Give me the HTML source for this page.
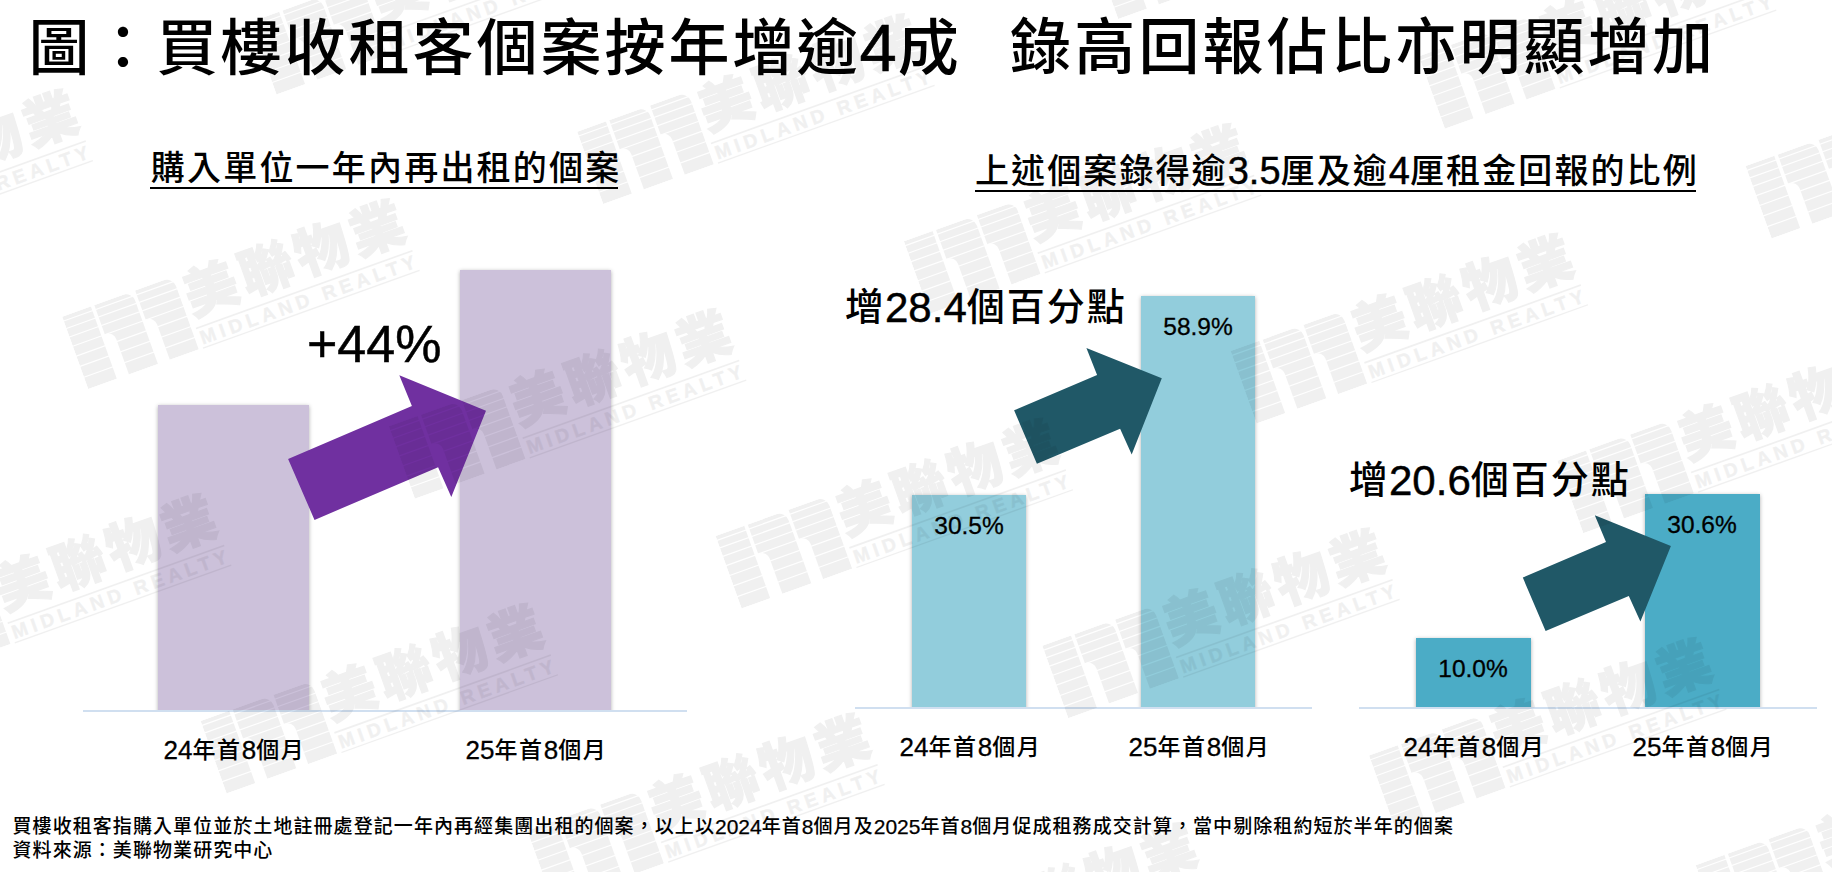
<!DOCTYPE html>
<html lang="zh-HK">
<head>
<meta charset="utf-8">
<title>買樓收租客個案按年增逾4成</title>
<style>
html,body{margin:0;padding:0;}
body{width:1832px;height:872px;position:relative;overflow:hidden;background:#fff;color:#000;font-family:"Liberation Sans","Noto Sans CJK HK","Noto Sans CJK TC",sans-serif;}
.t{position:absolute;white-space:nowrap;line-height:1;margin:0;font-weight:500;}
.title{font-size:61px;letter-spacing:3px;top:14px;}
.title .n{position:relative;top:1px;left:-1px;font-size:67px;letter-spacing:0;-webkit-text-stroke:.6px #000;}
.sub{font-size:34px;letter-spacing:2px;}
.sub .n{position:relative;top:1px;font-size:38px;letter-spacing:0;-webkit-text-stroke:.4px #000;}
.ul{position:absolute;height:2px;background:#000;}
.plot{position:absolute;left:0;top:0;width:1832px;overflow:hidden;}
.bar{position:absolute;box-shadow:0 1px 4px rgba(0,0,0,.32);}
.axis{position:absolute;height:2px;background:#d0dff0;}
.lab{font-size:23px;letter-spacing:1.6px;width:200px;text-align:center;}
.lab .n{position:relative;top:.8px;font-size:26px;letter-spacing:0;-webkit-text-stroke:.3px #000;}
.val{font-size:24.5px;width:120px;text-align:center;-webkit-text-stroke:.3px #000;}
.ann{font-size:38px;letter-spacing:2px;}
.ann .n{position:relative;top:1.5px;font-size:42px;letter-spacing:0;-webkit-text-stroke:.45px #000;}
.big{font-size:52px;-webkit-text-stroke:.5px #000;}
.note{font-weight:500;position:absolute;left:12.5px;top:814px;font-size:19px;letter-spacing:1.07px;line-height:24px;white-space:nowrap;margin:0;}
.note .n{position:relative;top:.6px;font-size:21px;letter-spacing:0;-webkit-text-stroke:.25px #000;}
svg.ov{position:absolute;left:0;top:0;}
</style>
</head>
<body>

<h1 class="t title" style="left:28.5px;top:12.5px">圖：買樓收租客個案按年增逾<span class="n">4</span>成</h1>
<h1 class="t title" style="left:1010px;top:18px;letter-spacing:3.2px">錄高回報佔比亦明顯增加</h1>

<h2 class="t sub" style="left:150.8px;top:151px;letter-spacing:2.2px">購入單位一年內再出租的個案</h2>
<div class="ul" style="left:150px;top:187px;width:468px"></div>

<h2 class="t sub" style="left:975px;top:151px;letter-spacing:2.1px">上述個案錄得逾<span class="n">3.5</span>厘及逾<span class="n">4</span>厘租金回報的比例</h2>
<div class="ul" style="left:975px;top:190px;width:721px"></div>

<!-- left chart -->
<div class="plot" style="height:710px">
  <div class="bar" style="left:158px;top:405px;width:151px;height:320px;background:#ccc1da"></div>
  <div class="bar" style="left:460px;top:270px;width:151px;height:455px;background:#ccc1da"></div>
</div>
<div class="axis" style="left:83px;top:710px;width:604px"></div>
<div class="t lab" style="left:134.5px;top:736px"><span class="n">24</span>年首<span class="n">8</span>個月</div>
<div class="t lab" style="left:436.5px;top:736px"><span class="n">25</span>年首<span class="n">8</span>個月</div>
<div class="t big" style="left:307px;top:318px">+44%</div>

<!-- right charts -->
<div class="plot" style="height:707px">
  <div class="bar" style="left:912px;top:495px;width:114px;height:230px;background:#92cddc"></div>
  <div class="bar" style="left:1141px;top:296px;width:114px;height:430px;background:#92cddc"></div>
  <div class="bar" style="left:1416px;top:638px;width:115px;height:90px;background:#4bacc6"></div>
  <div class="bar" style="left:1645px;top:494px;width:115px;height:230px;background:#4bacc6"></div>
</div>
<div class="axis" style="left:855px;top:707px;width:457px"></div>
<div class="axis" style="left:1359px;top:707px;width:458px"></div>

<div class="t val" style="left:909px;top:514px">30.5%</div>
<div class="t val" style="left:1138px;top:315px">58.9%</div>
<div class="t val" style="left:1413px;top:657px">10.0%</div>
<div class="t val" style="left:1642px;top:513px">30.6%</div>

<div class="t lab" style="left:870.5px;top:733px"><span class="n">24</span>年首<span class="n">8</span>個月</div>
<div class="t lab" style="left:1099.5px;top:733px"><span class="n">25</span>年首<span class="n">8</span>個月</div>
<div class="t lab" style="left:1374.5px;top:733px"><span class="n">24</span>年首<span class="n">8</span>個月</div>
<div class="t lab" style="left:1603.5px;top:733px"><span class="n">25</span>年首<span class="n">8</span>個月</div>

<div class="t ann" style="left:845px;top:285px">增<span class="n">28.4</span>個百分點</div>
<div class="t ann" style="left:1349px;top:458px">增<span class="n">20.6</span>個百分點</div>

<!-- arrows -->
<svg class="ov" width="1832" height="872" viewBox="0 0 1832 872">
  <polygon fill="#7030a0" points="288.1,459 411.9,406 399.3,375.2 486,410.7 451.3,497.1 438.1,467.2 314.5,519.9"/>
  <polygon fill="#205867" points="1014.1,410.3 1097.1,375 1086.4,348.1 1161.8,378.2 1131.7,454.4 1120.1,428.7 1036.9,463.8"/>
  <polygon fill="#205867" points="1522.8,577.6 1606,542.1 1594.8,515.3 1670.9,546.1 1640.4,621.5 1628.8,595.9 1545.6,630.9"/>
</svg>

<p class="note">買樓收租客指購入單位並於土地註冊處登記一年內再經集團出租的個案，以上以<span class="n">2024</span>年首<span class="n">8</span>個月及<span class="n">2025</span>年首<span class="n">8</span>個月促成租務成交計算，當中剔除租約短於半年的個案<br>資料來源：美聯物業研究中心</p>

<!-- watermark overlay -->
<svg class="ov" width="1832" height="872" viewBox="0 0 1832 872" style="opacity:.053">
  <defs>
    <g id="wm" fill="#000">
      <clipPath id="mshape">
        <path d="M0,0 H30.4 V77 H0 Z M34.2,0 H64.1 A10,10 0 0 1 74.1,10 V77 H43.4 V39.5 A8.5,8.5 0 0 0 34.9,31 H34.2 Z M77.6,0 H107.5 A10,10 0 0 1 117.5,10 V77 H86.8 V39.5 A8.5,8.5 0 0 0 78.3,31 H77.6 Z"/>
      </clipPath>
      <g clip-path="url(#mshape)" transform="translate(0 1)">
        <rect x="0" y="0" width="118" height="4"/>
        <rect x="0" y="5.2" width="118" height="6.8"/>
        <rect x="0" y="13.2" width="118" height="7.8"/>
        <rect x="0" y="22.2" width="118" height="8.6"/>
        <rect x="0" y="32" width="118" height="9.3"/>
        <rect x="0" y="42.5" width="118" height="9.8"/>
        <rect x="0" y="53.5" width="118" height="10.3"/>
        <rect x="0" y="65" width="118" height="12"/>
      </g>
      <text x="122.5" y="44.5" font-family="'Liberation Sans','Noto Sans CJK HK','Noto Sans CJK TC',sans-serif" font-weight="900" font-size="54" letter-spacing="4.8" stroke="#000" stroke-width="1">美聯物業</text>
      <rect x="122" y="56.6" width="230" height="1.6"/>
      <text x="123" y="74.7" font-family="'Liberation Sans',sans-serif" font-weight="700" font-size="19" letter-spacing="4.6" stroke="#000" stroke-width=".5">MIDLAND REALTY</text>
      <rect x="122" y="77.6" width="230" height="1.3"/>
    </g>
  </defs>
    <use href="#wm" transform="translate(-264.9 206.0) rotate(-19.76)"/>
    <use href="#wm" transform="translate(-126.5 610.4) rotate(-19.76)"/>
    <use href="#wm" transform="translate(61.8 315.7) rotate(-19.76)"/>
    <use href="#wm" transform="translate(200.2 720.1) rotate(-19.76)"/>
    <use href="#wm" transform="translate(250.1 21.0) rotate(-19.76)"/>
    <use href="#wm" transform="translate(388.5 425.4) rotate(-19.76)"/>
    <use href="#wm" transform="translate(526.9 829.8) rotate(-19.76)"/>
    <use href="#wm" transform="translate(576.8 130.7) rotate(-19.76)"/>
    <use href="#wm" transform="translate(715.2 535.1) rotate(-19.76)"/>
    <use href="#wm" transform="translate(853.6 939.5) rotate(-19.76)"/>
    <use href="#wm" transform="translate(903.5 240.4) rotate(-19.76)"/>
    <use href="#wm" transform="translate(1041.9 644.8) rotate(-19.76)"/>
    <use href="#wm" transform="translate(1091.8 -54.3) rotate(-19.76)"/>
    <use href="#wm" transform="translate(1230.2 350.1) rotate(-19.76)"/>
    <use href="#wm" transform="translate(1368.6 754.5) rotate(-19.76)"/>
    <use href="#wm" transform="translate(1418.5 55.4) rotate(-19.76)"/>
    <use href="#wm" transform="translate(1556.9 459.8) rotate(-19.76)"/>
    <use href="#wm" transform="translate(1695.3 864.2) rotate(-19.76)"/>
    <use href="#wm" transform="translate(1745.2 165.1) rotate(-19.76)"/>
</svg>

</body>
</html>
